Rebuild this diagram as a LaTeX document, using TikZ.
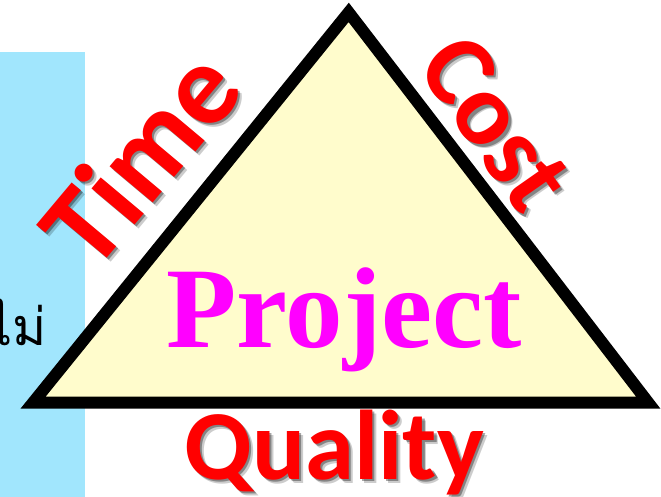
\documentclass[tikz,border=0pt]{standalone}
\usepackage{fontspec}
\setmainfont{Liberation Serif}
\newfontfamily\calfont{Carlito}
\newfontfamily\thaifont[Script=Thai]{Loma}
\definecolor{skyblue}{HTML}{A1E6FD}
\definecolor{paleyellow}{HTML}{FFFCCC}
\definecolor{wordred}{HTML}{FF0000}
\definecolor{wordmag}{HTML}{FF00FF}
\begin{document}
\begin{tikzpicture}[x=1pt,y=-1pt,
  word/.style={inner sep=0pt, font=\calfont\bfseries\fontsize{105}{105}\selectfont},
  redword/.style={word, text=wordred},
  shadowA/.style={word, text=black, opacity=0.35},
  shadowB/.style={word, text=black, opacity=0.2},
  timesize/.style={font=\calfont\bfseries\fontsize{116}{116}\selectfont},
  costsize/.style={font=\calfont\bfseries\fontsize{103}{103}\selectfont},
  qualsize/.style={font=\calfont\bfseries\fontsize{99}{99}\selectfont}]
\useasboundingbox (0,0) rectangle (661,497);
\fill[white] (0,0) rectangle (661,497);
\fill[skyblue] (0,52) rectangle (85,497);
\node[anchor=base east, inner sep=0pt, font=\thaifont\fontsize{52}{52}\selectfont] (mai) at (47,345) {ไม่};
% triangle
\coordinate (apex) at (348.7,12.4);
\coordinate (bl) at (33,402.7);
\coordinate (br) at (648.3,402.7);
\draw[line width=12pt, line join=miter, fill=paleyellow] (apex) -- (bl) -- (br) -- cycle;
% Project
\node[anchor=base, inner sep=0pt, text=wordmag, font=\bfseries\fontsize{115}{115}\selectfont] (project) at (344,347) {Project};
% Time
\node[shadowB, timesize, rotate=50] (timeS2) at (143,161) {Time};
\node[shadowA, timesize, rotate=50] (timeS1) at (141.5,159.5) {Time};
\node[redword, timesize, rotate=50] (time) at (139,157) {Time};
% Cost
\node[shadowB, costsize, rotate=-55] (costS2) at (500,127) {Cost};
\node[shadowA, costsize, rotate=-55] (costS1) at (498.5,125.5) {Cost};
\node[redword, costsize, rotate=-55] (cost) at (496,123) {Cost};
% Quality
\node[shadowB, qualsize, anchor=base] (qualS2) at (338,483) {Quality};
\node[shadowA, qualsize, anchor=base] (qualS1) at (336.5,481.5) {Quality};
\node[redword, qualsize, anchor=base] (quality) at (334,479) {Quality};
\end{tikzpicture}
\end{document}
